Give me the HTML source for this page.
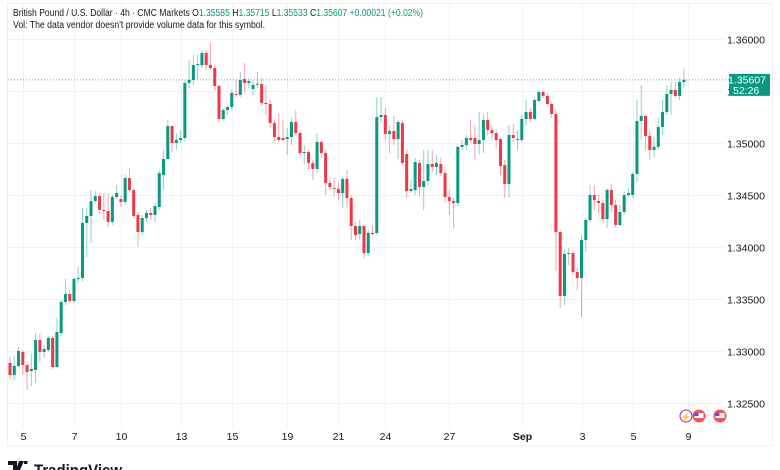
<!DOCTYPE html>
<html><head><meta charset="utf-8">
<style>
html,body{margin:0;padding:0;background:#fff;width:780px;height:470px;overflow:hidden;font-family:"Liberation Sans",sans-serif;}
svg{display:block}
</style></head>
<body>
<svg id="chart" width="780" height="470" viewBox="0 0 780 470" xmlns="http://www.w3.org/2000/svg">
  <rect x="7.5" y="3.5" width="765" height="442" fill="#fff" stroke="#f0f0f0"/>
  <g id="grid"></g>
  <g id="candles"></g>
  <g id="yaxis"></g>
  <g id="xaxis"></g>
  <text x="13" y="16" font-size="10" fill="#131722" textLength="410" lengthAdjust="spacingAndGlyphs">British Pound / U.S. Dollar · 4h · CMC Markets  <tspan fill="#131722">O</tspan><tspan fill="#089981">1.35585</tspan>  <tspan fill="#131722">H</tspan><tspan fill="#089981">1.35715</tspan>  <tspan fill="#131722">L</tspan><tspan fill="#089981">1.35533</tspan>  <tspan fill="#131722">C</tspan><tspan fill="#089981">1.35607</tspan>  <tspan fill="#089981">+0.00021 (+0.02%)</tspan></text>
  <text x="13" y="28" font-size="10" fill="#131722" textLength="252" lengthAdjust="spacingAndGlyphs">Vol: The data vendor doesn't provide volume data for this symbol.</text>
  <g>
    <circle cx="686" cy="416" r="6" fill="#fff" stroke="#9c27b0" stroke-width="1"/>
    <text x="686" y="420" font-size="9" text-anchor="middle" fill="#9c27b0">⚡</text>
    <circle cx="699" cy="416" r="6.5" fill="#f7525f"/>
    <rect x="694.5" y="413" width="9" height="5" fill="#fff"/>
    <rect x="694.5" y="413" width="4" height="3" fill="#2962ff"/>
    <circle cx="720" cy="416" r="6.5" fill="#f7525f"/>
    <rect x="715.5" y="413" width="9" height="5" fill="#fff"/>
    <rect x="715.5" y="413" width="4" height="3" fill="#2962ff"/>
  </g>
  <g>
    <path d="M8 461 h9 v9 h-4 v-5 h-5 z M19 461 h5 l-4 9 h-4 z M24 461 h3 a2 2 0 0 1 0 3 h-3 z" fill="#131722"/>
    <text x="34" y="476" font-size="17" font-weight="bold" fill="#131722" textLength="88" lengthAdjust="spacingAndGlyphs">TradingView</text>
  </g>
</svg>
<script>
// ---- data (4h GBPUSD candles) ----
const opens = [1.32885,1.32769,1.32856,1.32991,1.32866,1.32807,1.32817,1.33106,1.32991,1.33010,1.33125,1.32846,1.33173,1.33471,1.33548,1.33481,1.33692,1.33702,1.34231,1.34298,1.34442,1.34490,1.34356,1.34346,1.34241,1.34481,1.34461,1.34433,1.34663,1.34548,1.34308,1.34144,1.34279,1.34327,1.34308,1.34385,1.34692,1.34846,1.35163,1.35000,1.35029,1.35048,1.35577,1.35606,1.35750,1.35750,1.35865,1.35750,1.35721,1.35548,1.35231,1.35317,1.35346,1.35471,1.35462,1.35615,1.35577,1.35519,1.35565,1.35567,1.35385,1.35375,1.35192,1.35058,1.35048,1.35038,1.35058,1.35202,1.35096,1.34904,1.34913,1.34808,1.34750,1.35010,1.34904,1.34615,1.34567,1.34558,1.34519,1.34654,1.34471,1.34202,1.34125,1.34202,1.33942,1.34135,1.34135,1.35250,1.35269,1.35087,1.35115,1.35038,1.35192,1.34894,1.34538,1.34548,1.34808,1.34577,1.34635,1.34798,1.34769,1.34798,1.34711,1.34481,1.34442,1.34423,1.34962,1.34981,1.35048,1.35048,1.34990,1.35029,1.35221,1.35125,1.35096,1.35038,1.34788,1.34606,1.35077,1.35029,1.35029,1.35231,1.35298,1.35231,1.35404,1.35490,1.35452,1.35375,1.35279,1.34144,1.33529,1.33933,1.33942,1.33760,1.33702,1.34067,1.34260,1.34500,1.34442,1.34423,1.34269,1.34548,1.34404,1.34212,1.34337,1.34500,1.34500,1.34702,1.35212,1.35260,1.35067,1.34933,1.34962,1.35154,1.35298,1.35471,1.35510,1.35452,1.35585];
const closes = [1.32769,1.32856,1.33000,1.32866,1.32798,1.32827,1.33106,1.32991,1.33019,1.33125,1.32846,1.33183,1.33471,1.33548,1.33481,1.33692,1.33702,1.34231,1.34298,1.34442,1.34490,1.34356,1.34346,1.34241,1.34481,1.34519,1.34433,1.34663,1.34548,1.34298,1.34144,1.34279,1.34327,1.34308,1.34394,1.34711,1.34846,1.35163,1.35000,1.35029,1.35048,1.35577,1.35606,1.35750,1.35760,1.35865,1.35750,1.35721,1.35548,1.35231,1.35317,1.35346,1.35481,1.35462,1.35606,1.35577,1.35596,1.35558,1.35570,1.35385,1.35375,1.35192,1.35058,1.35029,1.35029,1.35058,1.35202,1.35096,1.34904,1.34913,1.34808,1.34750,1.35010,1.34904,1.34615,1.34577,1.34558,1.34519,1.34654,1.34471,1.34202,1.34115,1.34202,1.33942,1.34135,1.34125,1.35250,1.35269,1.35087,1.35115,1.35038,1.35202,1.34808,1.34538,1.34558,1.34817,1.34577,1.34635,1.34798,1.34769,1.34808,1.34711,1.34481,1.34442,1.34423,1.34962,1.34981,1.35048,1.35029,1.34990,1.35029,1.35221,1.35125,1.35096,1.35029,1.34779,1.34606,1.35077,1.35048,1.35038,1.35231,1.35298,1.35231,1.35413,1.35490,1.35452,1.35375,1.35279,1.34144,1.33529,1.33933,1.33942,1.33760,1.33702,1.34067,1.34260,1.34500,1.34452,1.34423,1.34269,1.34548,1.34404,1.34212,1.34337,1.34500,1.34519,1.34702,1.35212,1.35260,1.35067,1.34933,1.34962,1.35154,1.35298,1.35471,1.35510,1.35452,1.35587,1.35607];
const highs = [1.32943,1.32952,1.33039,1.33010,1.32895,1.32972,1.33173,1.33164,1.33058,1.33144,1.33144,1.33317,1.33490,1.33692,1.33587,1.33712,1.33808,1.34375,1.34375,1.34548,1.34538,1.34519,1.34519,1.34519,1.34500,1.34596,1.34500,1.34692,1.34759,1.34567,1.34337,1.34308,1.34356,1.34375,1.34423,1.34740,1.34933,1.35221,1.35173,1.35096,1.35125,1.35606,1.35798,1.35846,1.35846,1.35894,1.35894,1.35961,1.35740,1.35558,1.35336,1.35365,1.35510,1.35606,1.35683,1.35769,1.35615,1.35606,1.35683,1.35625,1.35558,1.35413,1.35221,1.35288,1.35221,1.35144,1.35240,1.35317,1.35125,1.34981,1.34933,1.34837,1.35096,1.35029,1.34933,1.34663,1.34663,1.34615,1.34673,1.34740,1.34500,1.34240,1.34260,1.34212,1.34163,1.34212,1.35442,1.35442,1.35336,1.35163,1.35260,1.35221,1.35221,1.34933,1.34644,1.34856,1.34837,1.34933,1.34933,1.34933,1.34884,1.34856,1.34740,1.34548,1.34471,1.34981,1.35029,1.35077,1.35221,1.35173,1.35298,1.35279,1.35298,1.35163,1.35125,1.35058,1.34837,1.35173,1.35183,1.35125,1.35269,1.35413,1.35336,1.35433,1.35510,1.35510,1.35481,1.35394,1.35317,1.34163,1.33971,1.33990,1.33971,1.33798,1.34115,1.34279,1.34596,1.34596,1.34500,1.34452,1.34567,1.34606,1.34452,1.34404,1.34529,1.34567,1.34721,1.35413,1.35558,1.35279,1.35125,1.35058,1.35240,1.35413,1.35558,1.35587,1.35587,1.35625,1.35715];
const lows = [1.32730,1.32721,1.32837,1.32769,1.32625,1.32663,1.32692,1.32895,1.32933,1.32991,1.32827,1.32837,1.33144,1.33442,1.33461,1.33461,1.33654,1.33673,1.33904,1.34038,1.34423,1.34317,1.34260,1.34192,1.34212,1.34461,1.34385,1.34404,1.34519,1.34279,1.34000,1.34115,1.34241,1.34260,1.34241,1.34356,1.34548,1.34837,1.34913,1.34933,1.35000,1.35019,1.35529,1.35558,1.35606,1.35721,1.35702,1.35702,1.35510,1.35202,1.35212,1.35269,1.35317,1.35442,1.35442,1.35491,1.35529,1.35462,1.35529,1.35356,1.35269,1.35144,1.35019,1.35010,1.35010,1.34884,1.34981,1.35067,1.34884,1.34798,1.34750,1.34644,1.34711,1.34856,1.34500,1.34548,1.34490,1.34452,1.34375,1.34375,1.34067,1.34067,1.34067,1.33894,1.33913,1.34106,1.34115,1.35202,1.35029,1.34904,1.34981,1.34846,1.34788,1.34471,1.34519,1.34500,1.34490,1.34356,1.34596,1.34721,1.34692,1.34683,1.34423,1.34308,1.34183,1.34394,1.34933,1.34933,1.35010,1.34837,1.34894,1.34904,1.35077,1.35029,1.34952,1.34692,1.34471,1.34471,1.35010,1.34933,1.35010,1.35173,1.35202,1.35221,1.35385,1.35433,1.35356,1.35240,1.33769,1.33413,1.33442,1.33827,1.33731,1.33587,1.33327,1.33952,1.34240,1.34356,1.34327,1.34240,1.34183,1.34337,1.34183,1.34202,1.34308,1.34481,1.34471,1.34625,1.35029,1.34933,1.34837,1.34856,1.34933,1.35077,1.35269,1.35269,1.35433,1.35413,1.35533];
const priceTicks = [1.36000,1.35500,1.35000,1.34500,1.34000,1.33500,1.33000,1.32500];
const priceTickLabels = ["1.36000","1.35500","1.35000","1.34500","1.34000","1.33500","1.33000","1.32500"];
const dateLabels = ["5","7","10","13","15","19","21","24","27","Sep","3","5","9"];
const dateCandleIndex = [3,15,26,40,52,65,77,88,103,120,134,146,159];
const lastPrice = 1.35607;
const countdown = "52:26";

// ---- scales ----
const NS = "http://www.w3.org/2000/svg";
function yScale(p){ return 143 - (p - 1.35) * 10400; }
function xScale(i){ return 10 + i * 4.265; }
function mk(tag, attrs, parent){
  const e = document.createElementNS(NS, tag);
  for (const k in attrs) e.setAttribute(k, attrs[k]);
  parent.appendChild(e);
  return e;
}
const grid = document.getElementById('grid');
const cg = document.getElementById('candles');
const ya = document.getElementById('yaxis');
const xa = document.getElementById('xaxis');

priceTicks.forEach((p, i) => {
  const y = Math.round(yScale(p)) + 0.5;
  const gl = mk('line', {x1: 8, x2: 724, y1: y, y2: y, stroke: '#f2f2f2', 'stroke-width': 1}, grid);
  
  
  const t = mk('text', {x: 765, y: y + 4, 'font-size': 10.5, fill: '#131722', 'text-anchor': 'end'}, ya);
  t.textContent = priceTickLabels[i];
  
  
});
dateLabels.forEach((d, i) => {
  const x = Math.round(xScale(dateCandleIndex[i])) + 0.5;
  const gl = mk('line', {x1: x, x2: x, y1: 4, y2: 428, stroke: '#f2f2f2', 'stroke-width': 1}, grid);
  
  
  const t = mk('text', {x: x, y: 440, 'font-size': 10.5, fill: '#131722', 'text-anchor': 'middle', 'font-weight': d === 'Sep' ? 'bold' : 'normal'}, xa);
  t.textContent = d;
  
  
});

for (let i = 0; i < closes.length; i++) {
  const up = closes[i] >= opens[i];
  const col = up ? '#089981' : '#f23645';
  const x = xScale(i);
  const w = mk('line', {x1: x, x2: x, y1: yScale(highs[i]), y2: yScale(lows[i]), stroke: col, 'stroke-width': 1, 'stroke-opacity': 0.45}, cg);
  
  
  const yt = yScale(Math.max(opens[i], closes[i]));
  const yb = yScale(Math.min(opens[i], closes[i]));
  const b = mk('rect', {x: x - 1.5, y: yt, width: 3, height: Math.max(1, yb - yt), fill: col}, cg);
  
  
}

const ly = yScale(lastPrice);
const pl = mk('line', {x1: 8, x2: 729, y1: ly, y2: ly, stroke: '#089981', 'stroke-width': 1, 'stroke-dasharray': '1 2', 'stroke-opacity': 0.7}, cg);


const tag = mk('rect', {x: 729, y: ly - 6, width: 41, height: 22, rx: 1, fill: '#089981'}, ya);


const t1 = mk('text', {x: 766, y: ly + 3.5, 'font-size': 10.5, fill: '#fff', 'text-anchor': 'end'}, ya);
t1.textContent = lastPrice.toFixed(5);


const t2 = mk('text', {x: 733, y: ly + 14, 'font-size': 10.5, fill: '#fff'}, ya);
t2.textContent = countdown;


</script>
</body></html>
